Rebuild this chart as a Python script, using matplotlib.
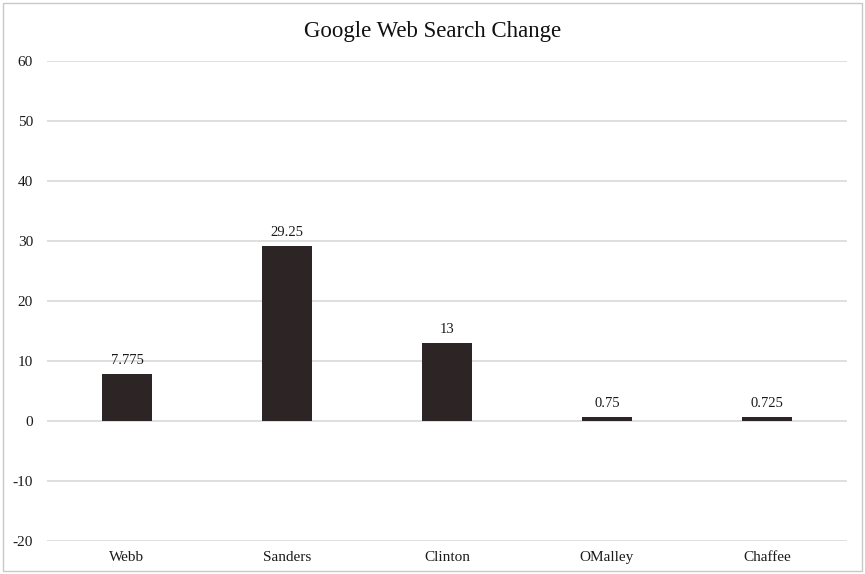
import matplotlib
matplotlib.use("Agg")
import matplotlib.pyplot as plt
from matplotlib.patches import Rectangle

candidates = ["Webb", "Sanders", "Clinton", "OMalley", "Chaffee"]
search_change = [7.775, 29.25, 13, 0.75, 0.725]
value_labels = ["7.775", "29.25", "13", "0.75", "0.725"]
y_ticks = [-20, -10, 0, 10, 20, 30, 40, 50, 60]

plt.rcParams["font.family"] = ["Liberation Serif", "DejaVu Serif"]

fig = plt.figure(figsize=(8.65, 5.74), dpi=100)
W, H = 865, 574
ax = fig.add_axes([47 / W, 1 - 541 / H, 800 / W, 480 / H])

x = list(range(len(candidates)))
bars = ax.bar(x, search_change, width=0.3125, color="#2d2425", zorder=3)

for xi, v, lab in zip(x, search_change, value_labels):
    ax.annotate(lab, (xi, v), xytext=(0, 5), textcoords="offset points",
                ha="center", va="bottom", fontsize=10.5, color="#1a1a1a")

ax.set_xlim(-0.5, len(candidates) - 0.5)
ax.set_ylim(-20, 60)
ax.set_yticks(y_ticks)
ax.set_yticklabels([str(t) for t in y_ticks])
ax.set_xticks(x)
ax.set_xticklabels(candidates)
ax.tick_params(axis="both", length=0, labelsize=11, colors="#1a1a1a")
ax.tick_params(axis="y", pad=10)
ax.tick_params(axis="x", pad=7)
ax.grid(axis="y", color="#d9d9d9", linewidth=1.2, zorder=0)
for s in ax.spines.values():
    s.set_visible(False)

fig.text(0.5, 1 - 31 / H, "Google Web Search Change", ha="center", va="center",
         fontsize=16.5, color="#111111")

fig.patches.append(Rectangle((3 / W, 3 / H), 1 - 6 / W, 1 - 6 / H,
                             transform=fig.transFigure, fill=False,
                             edgecolor="#c8c8c8", linewidth=1))

fig.savefig("out.png", dpi=100)
